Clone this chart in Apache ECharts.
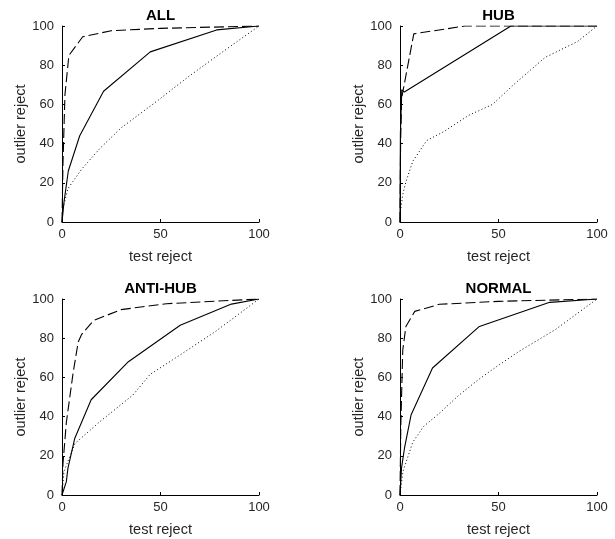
<!DOCTYPE html>
<html>
<head>
<meta charset="utf-8">
<script src="https://cdn.jsdelivr.net/npm/echarts@6/dist/echarts.min.js"></script>
<style>
  html, body { margin: 0; padding: 0; background: #fff; }
  #chart { width: 615px; height: 539px; }
</style>
</head>
<body>
<div id="chart"></div>
<script>
// panel titles
const panelTitles = ['ALL', 'HUB', 'ANTI-HUB', 'NORMAL'];
const xTicks = [0, 50, 100];
const yTicks = [0, 20, 40, 60, 80, 100];

// [test reject, outlier reject]
const allSolid = [[0, 0], [1, 10], [3.2, 26], [9, 44], [21.1, 66.7], [44.8, 86.8], [78.5, 98], [100, 100]];
const allDashed = [[0, 0], [0.5, 30], [1.5, 65], [3.5, 85], [10.5, 94.5], [25, 97.6], [50, 98.8], [100, 100]];
const allDotted = [[0, 0], [0.5, 7], [3, 17], [10, 27], [19.3, 37.6], [30, 48], [48.9, 62.2], [64, 74], [79.3, 85.2], [100, 100]];

const hubSolid = [[0, 0], [0.2, 45], [0.9, 67.5], [2.2, 66.3], [56.3, 100], [100, 100]];
const hubDashed = [[0, 0], [0.3, 40], [0.8, 63], [7, 96], [33, 100], [100, 100]];
const hubDotted = [[0, 0], [0.3, 6], [1.4, 14], [3, 20.5], [6.5, 31], [13.5, 41.5], [22, 46], [35, 54.5], [47, 60], [57.6, 70], [73.7, 84], [90, 92], [100, 100]];

const antiSolid = [[0, 0], [2.2, 6.8], [3, 13.6], [6.5, 29], [14.8, 48.6], [33.7, 68], [60, 86.6], [86, 97.4], [100, 100]];
const antiDashed = [[0, 0], [0.5, 16], [2.2, 37], [5.6, 62], [8.2, 78], [10, 82], [16, 89], [30, 94.6], [53, 97.6], [100, 100]];
const antiDotted = [[0, 0], [1, 12], [6.6, 26.3], [19.3, 37.5], [36, 51], [44.7, 61.5], [60, 71.5], [77.7, 83.3], [100, 100]];

const normSolid = [[0, 0], [0.8, 14], [2.3, 24], [5.6, 40.8], [16.5, 64.8], [40.3, 86], [76, 98.3], [100, 100]];
const normDashed = [[0, 0], [0.4, 35], [1.4, 74], [3, 86], [7.5, 93.7], [20, 97.3], [50, 98.8], [100, 100]];
const normDotted = [[0, 0], [1.5, 12], [6.5, 27], [12, 35], [20, 41.7], [30, 51], [40, 59], [49, 65.5], [60, 73], [79, 84.5], [100, 100]];

const panelData = [
  [allSolid, allDashed, allDotted],
  [hubSolid, hubDashed, hubDotted],
  [antiSolid, antiDashed, antiDotted],
  [normSolid, normDashed, normDotted]
];

const font = 'Liberation Sans, Arial, Helvetica, sans-serif';
const textColor = '#262626';
const grids = [
  { left: 62, top: 26, width: 197, height: 196 },
  { left: 400, top: 26, width: 197, height: 196 },
  { left: 62, top: 299, width: 197, height: 196 },
  { left: 400, top: 299, width: 197, height: 196 }
];
const lineTypes = ['solid', [10, 4], [1, 2.5]];

const option = {
  animation: false,
  backgroundColor: '#fff',
  title: panelTitles.map((t, i) => ({
    text: t,
    left: grids[i].left + grids[i].width / 2,
    top: grids[i].top - 18,
    textAlign: 'center',
    padding: 0,
    textStyle: { fontFamily: font, fontSize: 15, fontWeight: 'bold', color: '#000' }
  })),
  grid: grids,
  xAxis: grids.map((g, i) => ({
    type: 'value',
    gridIndex: i,
    min: 0,
    max: 100,
    interval: 50,
    name: 'test reject',
    nameLocation: 'middle',
    nameGap: 27,
    nameTextStyle: { fontFamily: font, fontSize: 14.5, color: textColor },
    axisLine: { lineStyle: { color: '#000', width: 1 } },
    axisTick: { inside: true, length: 3, lineStyle: { color: '#000' } },
    axisLabel: { fontFamily: font, fontSize: 13, color: textColor, margin: 6 },
    splitLine: { show: false }
  })),
  yAxis: grids.map((g, i) => ({
    type: 'value',
    gridIndex: i,
    min: 0,
    max: 100,
    interval: 20,
    name: 'outlier reject',
    nameLocation: 'middle',
    nameGap: 31,
    nameTextStyle: { fontFamily: font, fontSize: 14.5, color: textColor },
    axisLine: { lineStyle: { color: '#000', width: 1 } },
    axisTick: { inside: true, length: 3, lineStyle: { color: '#000' } },
    axisLabel: { fontFamily: font, fontSize: 13, color: textColor, margin: 8 },
    splitLine: { show: false }
  })),
  series: []
};

panelData.forEach((curves, i) => {
  curves.forEach((pts, k) => {
    option.series.push({
      type: 'line',
      xAxisIndex: i,
      yAxisIndex: i,
      data: pts,
      showSymbol: false,
      silent: true,
      lineStyle: { color: '#000', width: k === 2 ? 1 : 1.1, type: lineTypes[k] }
    });
  });
});

const chart = echarts.init(document.getElementById('chart'), null, { renderer: 'canvas' });
chart.setOption(option);
</script>
</body>
</html>
